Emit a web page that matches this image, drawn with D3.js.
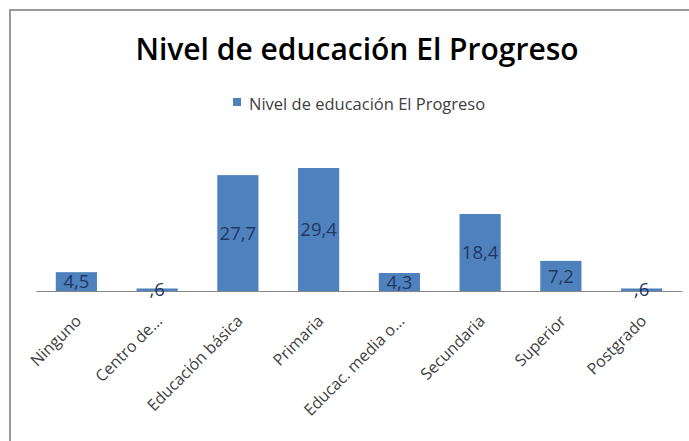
<!DOCTYPE html>
<html>
<head>
<meta charset="utf-8">
<script src="https://cdn.jsdelivr.net/npm/d3@7"></script>
<style>
  html, body { margin: 0; padding: 0; background: #fff; }
  svg { display: block; }
</style>
</head>
<body>
<svg id="chart" width="689" height="441"></svg>
<script>
const categories = ["Ninguno", "Centro de...", "Educación básica", "Primaria", "Educac. media o...", "Secundaria", "Superior", "Postgrado"];
const values = [4.5, 0.6, 27.7, 29.4, 4.3, 18.4, 7.2, 0.6];
const seriesName = "Nivel de educación El Progreso";
const titleText = "Nivel de educación El Progreso";

const W = 689, H = 441;
const svg = d3.select("#chart");
const font = "'Open Sans', 'Noto Sans', sans-serif";

// border
svg.append("rect").attr("x", 10).attr("y", 10).attr("width", W + 10).attr("height", H + 10)
  .attr("fill", "#fff").attr("stroke", "#9a9a9a").attr("stroke-width", 2);

const plot = { left: 36, right: 682, top: 165.5, bottom: 291 };

const x = d3.scaleBand().domain(categories).range([plot.left, plot.right]).paddingInner(0.49).paddingOuter(0.245);
const y = d3.scaleLinear().domain([0, 30]).range([plot.bottom, plot.top]);

const fmt = v => String(v).replace(".", ",").replace(/^0,/, ",");

// bars
svg.append("g").selectAll("rect").data(values).join("rect")
  .attr("x", (d, i) => x(categories[i]))
  .attr("y", d => y(d))
  .attr("width", x.bandwidth())
  .attr("height", d => y(0) - y(d))
  .attr("fill", "#4f81bd");

// axis
const xAxis = d3.axisBottom(x).tickSize(0).tickFormat("");
const ax = svg.append("g").attr("transform", `translate(0,${plot.bottom})`).call(xAxis);
ax.select(".domain").attr("stroke", "#868686").attr("stroke-width", 1);

// category labels
svg.append("g").selectAll("text").data(categories).join("text")
  .attr("transform", d => `translate(${x(d) + x.bandwidth() / 2 + 6},${plot.bottom + 31}) rotate(-45)`)
  .attr("text-anchor", "end")
  .attr("font-family", font)
  .attr("font-size", 16)
  .attr("fill", "#404040")
  .text(d => d);

// data labels
svg.append("g").selectAll("text").data(values).join("text")
  .attr("x", (d, i) => x(categories[i]) + x.bandwidth() / 2)
  .attr("y", d => (y(d) + y(0)) / 2)
  .attr("dy", "0.36em")
  .attr("text-anchor", "middle")
  .attr("font-family", font)
  .attr("font-size", 18.5)
  .attr("fill", "#1f3864")
  .text(d => fmt(d));

// title
svg.append("text").attr("x", 357).attr("y", 60).attr("text-anchor", "middle")
  .attr("font-family", font).attr("font-size", 30).attr("font-weight", 600)
  .attr("fill", "#000").text(titleText);

// legend
const lg = svg.append("g");
lg.append("rect").attr("x", 233).attr("y", 98).attr("width", 8).attr("height", 8).attr("fill", "#4f81bd");
lg.append("text").attr("x", 249).attr("y", 110)
  .attr("font-family", font).attr("font-size", 16.5).attr("fill", "#404040").text(seriesName);
</script>
</body>
</html>
